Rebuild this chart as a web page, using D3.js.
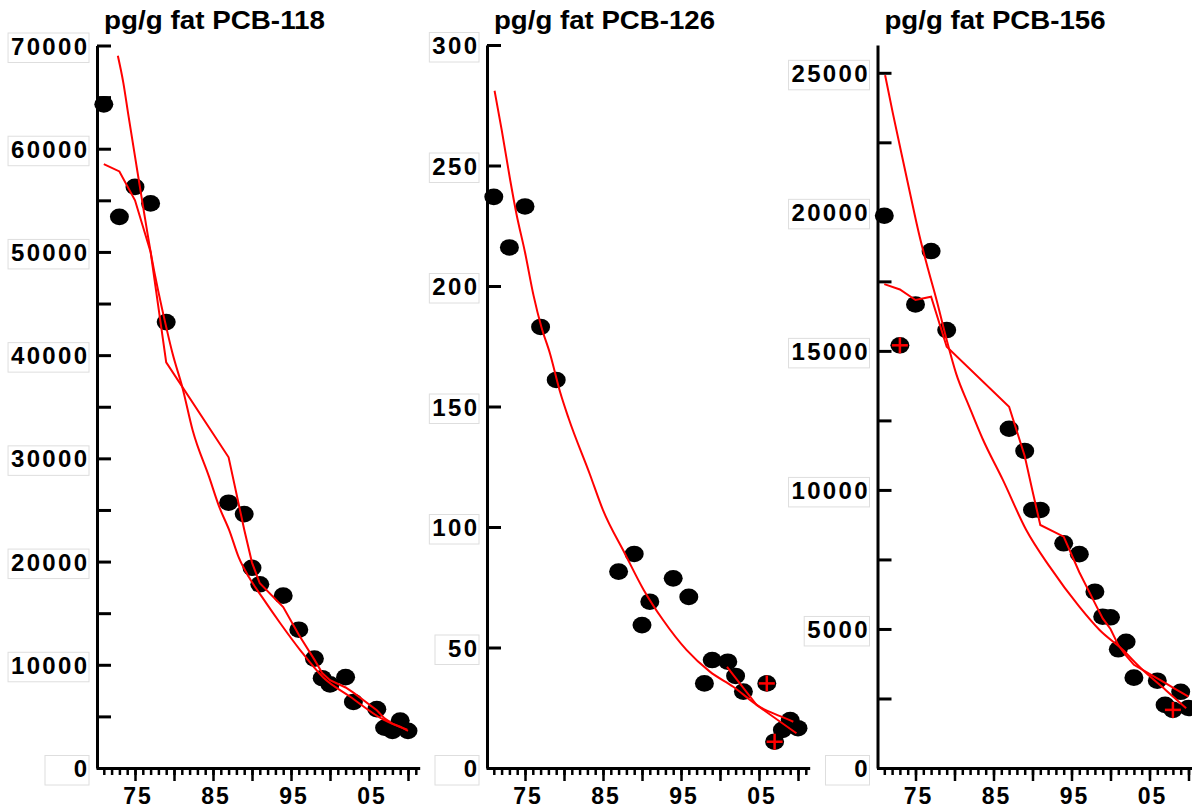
<!DOCTYPE html>
<html>
  <head>
    <meta charset="utf-8">
    <script type="text/javascript" src="https://cdn.jsdelivr.net/npm/d3@7"></script>
    <style type="text/css">
      body { margin: 0; background: #ffffff; }
      .title {
        font-family: "Liberation Sans", Arial, sans-serif;
        font-weight: bold;
        font-size: 26px;
      }
    </style>
  </head>
  <body>
    <script type="text/javascript">
      // PCB-118: measured points, running smoother at the same years, fitted curve
      var years118 = [1971, 1973, 1975, 1977, 1979, 1987, 1989, 1990, 1991, 1994, 1996,
                      1998, 1999, 2000, 2002, 2003, 2006, 2007, 2008, 2009, 2010];
      var values118 = [64300, 53400, 56300, 54700, 43200, 25700, 24600, 19400, 17800, 16700, 13400,
                       10600, 8700, 8100, 8800, 6400, 5700, 3900, 3600, 4600, 3600];
      var smooth118 = [58500, 57800, 55000, 50000, 39300, 30100, 23100, 19900, 17900, 15600, 12900,
                       10500, 9200, 8500, 7800, 7300, 5600, 4800, 4300, 4000, 3600];
      var fitYears118 = [1972.8, 1973.5, 1974.1, 1975.2, 1976.1, 1977.1, 1979.1, 1979.8, 1981.1,
                         1982.4, 1984.5, 1985.8, 1987.1, 1988.3, 1989.6, 1991.3, 1993.6, 1996.2,
                         1999.1, 2002.6, 2006.8, 2009.9];
      var fitValues118 = [69000, 66400, 63500, 58300, 54100, 49600, 42400, 40200, 36800,
                          32700, 28200, 25300, 23000, 20400, 18500, 16550, 14050, 11400,
                          8800, 6900, 4700, 3700];
      var yLabels118 = [0, 10000, 20000, 30000, 40000, 50000, 60000, 70000];

      // PCB-126
      var years126 = [1971, 1973, 1975, 1977, 1979, 1987, 1989, 1990, 1991, 1994, 1996,
                      1998, 1999, 2001, 2002, 2003, 2006, 2007, 2008, 2009, 2010];
      var values126 = [237, 216, 233, 183, 161, 81.5, 88.8, 59.3, 69, 78.7, 71,
                       35.1, 44.8, 44.1, 38.2, 31.7, 35.1, 10.9, 15.8, 19.9, 16.5];
      var flags126 = [2006, 2007];
      var fitYears126 = [1971.1, 1972.0, 1973.1, 1973.9, 1975.0, 1976.1, 1977.1, 1978.2, 1979.5,
                         1980.6, 1983.3, 1985.0, 1987.8, 1990.2, 1992.7, 1995.7, 1998.7, 2001.7,
                         2005.1, 2007.7, 2009.4];
      var fitValues126 = [281, 265, 244, 230, 214, 196, 183, 172, 156,
                          145, 122, 107, 89, 74, 61.4, 49, 40, 33.7,
                          25.4, 21.5, 19.2];
      var recentYears126 = [2000.9, 2004.7, 2009.8];
      var recentValues126 = [42, 26.1, 14.4];
      var yLabels126 = [0, 50, 100, 150, 200, 250, 300];

      // PCB-156
      var years156 = [1971, 1973, 1975, 1977, 1979, 1987, 1989, 1990, 1991, 1994, 1996,
                      1998, 1999, 2000, 2001, 2002, 2003, 2006, 2007, 2008, 2009, 2010];
      var values156 = [19860, 15200, 16670, 18590, 15750, 12200, 11400, 9280, 9280, 8080, 7690,
                       6340, 5440, 5420, 4270, 4540, 3250, 3140, 2270, 2090, 2740, 2160];
      var flags156 = [1973, 2008];
      var smooth156 = [17400, 17210, 16830, 16950, 15150, 12990, 11220, 9960, 8740, 8320, 7040,
                       5930, 5380, 5000, 4420, 4040, 3710, 3220, 3060, 2890, 2730, 2570];
      var fitYears156 = [1971.1, 1972.1, 1973.2, 1974.3, 1975.5, 1976.6, 1977.7, 1979.0, 1980.2,
                         1981.9, 1983.6, 1986.2, 1989.2, 1992.2, 1996.0, 1998.6, 2001.6, 2003.7,
                         2007.1, 2009.7];
      var fitValues156 = [24920, 23540, 22100, 20670, 19150, 17950, 16830, 15390, 14190,
                          12990, 11840, 10360, 8560, 7240, 5800, 4960, 4240, 3640,
                          2800, 2150];
      var yLabels156 = [0, 5000, 10000, 15000, 20000, 25000];

      // Shared x axis labels
      var xLabelYears = [1975, 1985, 1995, 2005];
      var xLabels = ["75", "85", "95", "05"];

      // Panel settings
      var panels = [
        {title: "pg/g fat PCB-118", axisX: 97, top: 45.5, yMax: 70000, step: 5000,
         labels: yLabels118, years: years118, values: values118, flags: [],
         lines: [{years: fitYears118, values: fitValues118, curve: d3.curveMonotoneX},
                 {years: years118, values: smooth118, curve: d3.curveLinear}]},
        {title: "pg/g fat PCB-126", axisX: 487, top: 45, yMax: 300, step: 50,
         labels: yLabels126, years: years126, values: values126, flags: flags126,
         lines: [{years: fitYears126, values: fitValues126, curve: d3.curveMonotoneX},
                 {years: recentYears126, values: recentValues126, curve: d3.curveLinear}]},
        {title: "pg/g fat PCB-156", axisX: 877.5, top: 45, yMax: 26000, step: 2500,
         labels: yLabels156, years: years156, values: values156, flags: flags156,
         lines: [{years: fitYears156, values: fitValues156, curve: d3.curveMonotoneX},
                 {years: years156, values: smooth156, curve: d3.curveLinear}]}
      ];

      var width = 1192;
      var height = 810;
      var baseY = 768;
      var font = "'Liberation Sans', Arial, sans-serif";

      var svg = d3.select("body").append("svg").attr("width", width).attr("height", height);
      svg.append("rect").attr("width", "100%").attr("height", "100%").attr("fill", "white");

      // Widens a text a little by spacing, like the original bitmap font
      function spread(sel, gap) {
        sel.each(function() {
          var t = d3.select(this);
          var n = t.text().length;
          var w = this.getComputedTextLength();
          if (n > 1) {
            t.attr("textLength", w + (n - 1) * gap).attr("lengthAdjust", "spacing");
          }
          this.__width = w + (n > 1 ? (n - 1) * gap : 0);
        });
      }

      panels.forEach(function(p) {
        var x = d3.scaleLinear().domain([1970, 2011.5])
                  .range([p.axisX - 1, p.axisX - 1 + 323.7]);
        var y = d3.scaleLinear().domain([0, p.yMax]).range([baseY, p.top]);
        var ticks = d3.range(0, p.yMax + 1, p.step);

        // Y axis: ticks pointing into the chart, labels on the left
        var yAxis = d3.axisLeft(y).tickValues(ticks).tickSizeInner(-14).tickSizeOuter(0)
          .tickPadding(10)
          .tickFormat(function(d) { return p.labels.indexOf(d) >= 0 ? d : ""; });
        var yg = svg.append("g").attr("transform", "translate(" + p.axisX + ",0)").call(yAxis);
        yg.attr("font-size", 24).attr("font-family", font).attr("font-weight", "bold");
        yg.selectAll("path, line").attr("stroke", "black").attr("stroke-width", 3);
        yg.selectAll(".tick text").attr("dy", "0.36em").call(spread, 2.3);

        // Faint boxes behind the y labels
        yg.selectAll(".tick").each(function() {
          var txt = d3.select(this).select("text");
          if (txt.text() === "") return;
          var w = txt.node().__width;
          var left = Math.min(-52, -10 - w - 3);
          d3.select(this).insert("rect", "text")
            .attr("x", left).attr("y", -13).attr("width", -8 - left).attr("height", 29.5)
            .attr("fill", "white").attr("stroke", "#dedede").attr("stroke-width", 1);
        });

        // X axis: a short tick every year, a long one every five years
        var minor = d3.axisBottom(x).tickValues(d3.range(1971, 2012)).tickSize(7)
          .tickSizeOuter(0).tickFormat("");
        var xg = svg.append("g").attr("transform", "translate(0," + baseY + ")").call(minor);
        xg.selectAll("path, line").attr("stroke", "black").attr("stroke-width", 2.5);
        xg.select(".domain").attr("stroke-width", 3);

        var major = d3.axisBottom(x).tickValues(d3.range(1975, 2011, 5)).tickSize(13)
          .tickSizeOuter(0).tickPadding(7)
          .tickFormat(function(d) {
            var i = xLabelYears.indexOf(d);
            return i >= 0 ? xLabels[i] : "";
          });
        var xg2 = svg.append("g").attr("transform", "translate(0," + baseY + ")").call(major);
        xg2.attr("font-size", 23).attr("font-family", font).attr("font-weight", "bold");
        xg2.select(".domain").remove();
        xg2.selectAll("line").attr("stroke", "black").attr("stroke-width", 2.5);
        xg2.selectAll(".tick text").attr("dy", "0.71em").attr("dx", 1.5).call(spread, 1.8);

        // Title above each panel
        svg.append("text").attr("class", "title")
          .attr("x", p.axisX + 7).attr("y", 29)
          .attr("textLength", 221).attr("lengthAdjust", "spacingAndGlyphs")
          .text(p.title);

        var pts = d3.zip(p.years, p.values);

        // Measured values as black dots
        svg.append("g").selectAll("ellipse").data(pts).enter().append("ellipse")
          .attr("cx", function(d) { return x(d[0]); })
          .attr("cy", function(d) { return y(d[1]); })
          .attr("rx", 9.5).attr("ry", 8.3)
          .attr("fill", "black");

        // Red curves
        p.lines.forEach(function(l) {
          var line = d3.line()
            .x(function(d) { return x(d[0]); })
            .y(function(d) { return y(d[1]); })
            .curve(l.curve);
          svg.append("path").attr("d", line(d3.zip(l.years, l.values)))
            .attr("fill", "none").attr("stroke", "#ff0000").attr("stroke-width", 2);
        });

        // Red crosses on the flagged samples
        var flagged = pts.filter(function(d) { return p.flags.indexOf(d[0]) >= 0; });
        var cross = svg.append("g").selectAll("g").data(flagged).enter().append("g")
          .attr("transform", function(d) {
            return "translate(" + x(d[0]) + "," + y(d[1]) + ")";
          });
        cross.append("line").attr("x1", -8).attr("x2", 8).attr("y1", 0).attr("y2", 0)
          .attr("stroke", "#ff0000").attr("stroke-width", 2.5);
        cross.append("line").attr("x1", 0).attr("x2", 0).attr("y1", -8).attr("y2", 8)
          .attr("stroke", "#ff0000").attr("stroke-width", 2.5);
      });
    </script>
  </body>
</html>
